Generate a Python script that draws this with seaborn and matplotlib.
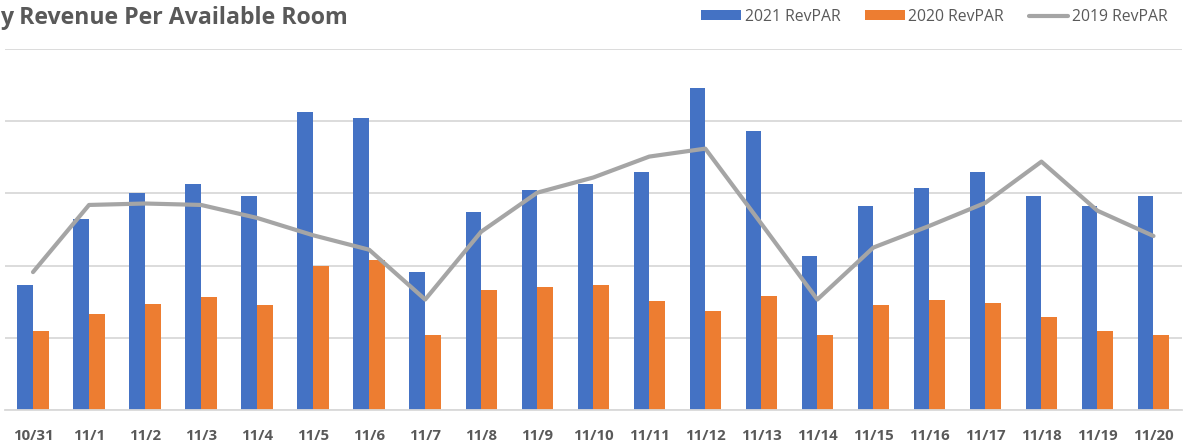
import pandas as pd
import numpy as np
import seaborn as sns
import matplotlib.pyplot as plt
from matplotlib.ticker import MultipleLocator

# data (no y labels shown, grid step = 20)
days = ['10/31', '11/1', '11/2', '11/3', '11/4', '11/5', '11/6', '11/7', '11/8', '11/9', '11/10',
        '11/11', '11/12', '11/13', '11/14', '11/15', '11/16', '11/17', '11/18', '11/19', '11/20']
revpar_2021 = [34.6, 53.0, 60.0, 62.6, 59.2, 82.6, 80.8, 38.2, 54.8, 61.0, 62.6,
               66.0, 89.2, 77.4, 42.6, 56.4, 61.4, 65.8, 59.4, 56.6, 59.4]
revpar_2020 = [22.0, 26.6, 29.4, 31.4, 29.0, 40.0, 41.6, 20.8, 33.2, 34.2, 34.6,
               30.2, 27.4, 31.6, 20.8, 29.0, 30.4, 29.6, 25.8, 22.0, 20.8]
revpar_2019 = [38.2, 56.8, 57.2, 56.8, 53.2, 48.4, 44.4, 30.6, 49.4, 60.2, 64.4,
               70.2, 72.4, 51.6, 30.6, 45.0, 51.0, 57.4, 68.8, 55.2, 48.2]

grey_txt = '#595959'
grid_c = '#d9d9d9'

df_bars = pd.DataFrame({
    'day': days * 2,
    'revpar': revpar_2021 + revpar_2020,
    'series': ['2021 RevPAR'] * len(days) + ['2020 RevPAR'] * len(days),
})
df_line = pd.DataFrame({'day': days, 'revpar': revpar_2019})

sns.set_style('white')
plt.rcParams['font.family'] = ['Open Sans', 'DejaVu Sans']

fig = plt.figure(figsize=(11.84, 4.47), dpi=100)
ax = fig.add_axes([5/1184, 1 - 410/447, 1176.5/1184, 361/447])

sns.barplot(df_bars, x='day', y='revpar', hue='series', order=days,
            palette=['#4472C4', '#ED7D31'], width=0.56, gap=0, saturation=1,
            linewidth=0, ax=ax)
sns.lineplot(df_line, x='day', y='revpar', color='#A5A5A5', linewidth=3,
             label='2019 RevPAR', ax=ax)

ax.set_xlim(-0.5, len(days) - 0.5)
ax.set_ylim(0, 100)
ax.yaxis.set_major_locator(MultipleLocator(20))
ax.set_yticklabels([])
ax.tick_params(axis='y', length=0)
ax.grid(axis='y', color=grid_c, linewidth=1.3)
ax.set_axisbelow(True)
ax.set_xlabel('')
ax.set_ylabel('')

# tick marks sit between categories, labels under the bars
ax.set_xticks(np.arange(-0.5, len(days)), minor=True)
ax.tick_params(axis='x', which='major', length=0, pad=14)
ax.tick_params(axis='x', which='minor', length=5, color=grid_c, width=1.2)
for lbl in ax.get_xticklabels():
    lbl.set_fontweight('bold')
    lbl.set_color(grey_txt)
    lbl.set_fontsize(10.8)

for side in ['top', 'left', 'right']:
    ax.spines[side].set_visible(False)
ax.spines['bottom'].set_color(grid_c)
ax.spines['bottom'].set_linewidth(1.3)

handles, labels = ax.get_legend_handles_labels()
ax.get_legend().remove()
fig.legend(handles, labels, ncol=3, loc='center right', bbox_to_anchor=(1168/1184, 1 - 17/447),
           frameon=False, fontsize=11.3, labelcolor=grey_txt, handlelength=2.5,
           handleheight=0.6, handletextpad=0.25, columnspacing=1.6, borderpad=0,
           borderaxespad=0)

fig.text(0, 1 - 18/447, 'y Revenue Per Available Room', fontsize=16.7, fontweight='bold',
         color=grey_txt, ha='left', va='center')

fig.savefig('out.png', dpi=100)
